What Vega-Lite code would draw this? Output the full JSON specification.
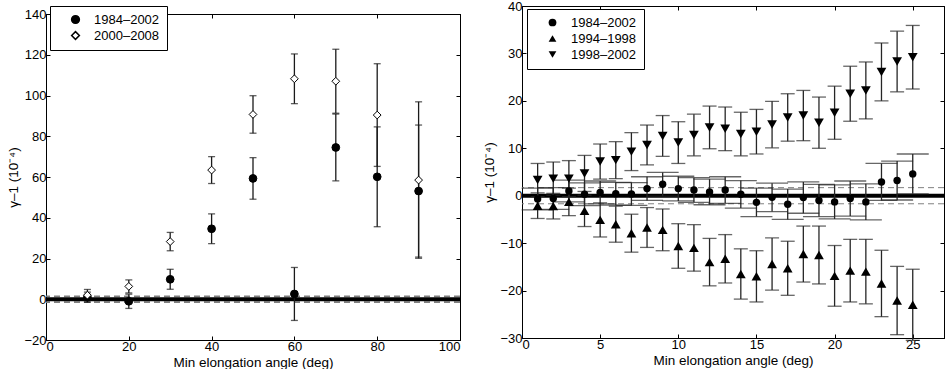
{
  "$schema": "https://vega.github.io/schema/vega-lite/v6.json",
  "background": "white",
  "padding": {"left": 6, "top": -1, "right": 0, "bottom": 0},
  "spacing": 19,
  "align": "none",
  "resolve": {"scale": {"shape": "independent", "fill": "independent", "x": "independent", "y": "independent"}, "legend": {"shape": "independent", "fill": "independent"}},
  "config": {
    "font": "Liberation Sans",
    "view": {"stroke": "black", "strokeWidth": 1},
    "axis": {"domainColor": "black", "tickColor": "black", "labelColor": "black", "titleColor": "black", "labelFont": "Liberation Sans", "titleFont": "Liberation Sans", "labelFontSize": 13, "titleFontSize": 13.5, "titleFontWeight": "normal", "grid": false, "tickSize": -4, "tickWidth": 1, "domainWidth": 1, "labelPadding": 4},
    "legend": {"labelFont": "Liberation Sans", "labelFontSize": 13, "labelColor": "black"}
  },
  "datasets": {
    "leftpts": [
      {"angle": 10, "value": 1.0, "err": 2.5, "series": "1984–2002"},
      {"angle": 20, "value": -1.0, "err": 3.5, "series": "1984–2002"},
      {"angle": 30, "value": 9.8, "err": 4.9, "series": "1984–2002"},
      {"angle": 40, "value": 34.6, "err": 7.3, "series": "1984–2002"},
      {"angle": 50, "value": 59.3, "err": 10.2, "series": "1984–2002"},
      {"angle": 60, "value": 2.6, "err": 13.0, "series": "1984–2002"},
      {"angle": 70, "value": 74.5, "err": 16.4, "series": "1984–2002"},
      {"angle": 80, "value": 60.1, "err": 24.5, "series": "1984–2002"},
      {"angle": 90, "value": 53.1, "err": 32.4, "series": "1984–2002"},
      {"angle": 10, "value": 2.0, "err": 2.8, "series": "2000–2008"},
      {"angle": 20, "value": 6.3, "err": 3.2, "series": "2000–2008"},
      {"angle": 30, "value": 28.3, "err": 4.5, "series": "2000–2008"},
      {"angle": 40, "value": 63.4, "err": 6.6, "series": "2000–2008"},
      {"angle": 50, "value": 90.7, "err": 9.2, "series": "2000–2008"},
      {"angle": 60, "value": 108.2, "err": 12.2, "series": "2000–2008"},
      {"angle": 70, "value": 107.0, "err": 15.7, "series": "2000–2008"},
      {"angle": 80, "value": 90.4, "err": 25.2, "series": "2000–2008"},
      {"angle": 90, "value": 58.5, "err": 38.4, "series": "2000–2008"}
    ],
    "leftlines": [
      {"v": 0, "kind": "zero"},
      {"v": 1.4, "kind": "bound"},
      {"v": -1.4, "kind": "bound"}
    ],
    "rightlines": [
      {"v": 0, "kind": "zero"},
      {"v": 1.7, "kind": "bound"},
      {"v": -1.7, "kind": "bound"}
    ],
    "rightpts": [
      {"angle": 1, "value": -0.7, "err": 2.3, "series": "1984–2002"},
      {"angle": 2, "value": -0.6, "err": 2.3, "series": "1984–2002"},
      {"angle": 3, "value": 1.0, "err": 2.3, "series": "1984–2002"},
      {"angle": 4, "value": 0.3, "err": 2.4, "series": "1984–2002"},
      {"angle": 5, "value": 0.7, "err": 2.4, "series": "1984–2002"},
      {"angle": 6, "value": 0.4, "err": 2.4, "series": "1984–2002"},
      {"angle": 7, "value": 0.35, "err": 2.4, "series": "1984–2002"},
      {"angle": 8, "value": 1.5, "err": 2.5, "series": "1984–2002"},
      {"angle": 9, "value": 2.4, "err": 2.5, "series": "1984–2002"},
      {"angle": 10, "value": 1.5, "err": 2.6, "series": "1984–2002"},
      {"angle": 11, "value": 1.2, "err": 2.6, "series": "1984–2002"},
      {"angle": 12, "value": 0.8, "err": 2.7, "series": "1984–2002"},
      {"angle": 13, "value": 1.2, "err": 2.8, "series": "1984–2002"},
      {"angle": 14, "value": 0.3, "err": 2.9, "series": "1984–2002"},
      {"angle": 15, "value": -1.4, "err": 3.0, "series": "1984–2002"},
      {"angle": 16, "value": -0.35, "err": 3.0, "series": "1984–2002"},
      {"angle": 17, "value": -1.8, "err": 3.2, "series": "1984–2002"},
      {"angle": 18, "value": -0.4, "err": 3.3, "series": "1984–2002"},
      {"angle": 19, "value": -1.0, "err": 3.4, "series": "1984–2002"},
      {"angle": 20, "value": -1.3, "err": 3.6, "series": "1984–2002"},
      {"angle": 21, "value": -0.6, "err": 3.7, "series": "1984–2002"},
      {"angle": 22, "value": -1.3, "err": 3.8, "series": "1984–2002"},
      {"angle": 23, "value": 2.9, "err": 3.9, "series": "1984–2002"},
      {"angle": 24, "value": 3.2, "err": 4.1, "series": "1984–2002"},
      {"angle": 25, "value": 4.6, "err": 4.2, "series": "1984–2002"},
      {"angle": 1, "value": -2.1, "err": 2.7, "series": "1994–1998"},
      {"angle": 2, "value": -2.2, "err": 2.7, "series": "1994–1998"},
      {"angle": 3, "value": -1.3, "err": 2.9, "series": "1994–1998"},
      {"angle": 4, "value": -3.2, "err": 3.3, "series": "1994–1998"},
      {"angle": 5, "value": -5.1, "err": 3.6, "series": "1994–1998"},
      {"angle": 6, "value": -6.0, "err": 3.8, "series": "1994–1998"},
      {"angle": 7, "value": -7.9, "err": 4.0, "series": "1994–1998"},
      {"angle": 8, "value": -6.7, "err": 4.2, "series": "1994–1998"},
      {"angle": 9, "value": -7.2, "err": 4.4, "series": "1994–1998"},
      {"angle": 10, "value": -10.6, "err": 4.7, "series": "1994–1998"},
      {"angle": 11, "value": -11.0, "err": 4.9, "series": "1994–1998"},
      {"angle": 12, "value": -14.0, "err": 5.0, "series": "1994–1998"},
      {"angle": 13, "value": -13.3, "err": 5.1, "series": "1994–1998"},
      {"angle": 14, "value": -16.5, "err": 5.3, "series": "1994–1998"},
      {"angle": 15, "value": -17.0, "err": 5.4, "series": "1994–1998"},
      {"angle": 16, "value": -14.4, "err": 5.5, "series": "1994–1998"},
      {"angle": 17, "value": -15.3, "err": 5.7, "series": "1994–1998"},
      {"angle": 18, "value": -12.3, "err": 5.9, "series": "1994–1998"},
      {"angle": 19, "value": -12.5, "err": 6.1, "series": "1994–1998"},
      {"angle": 20, "value": -16.9, "err": 6.4, "series": "1994–1998"},
      {"angle": 21, "value": -15.8, "err": 6.6, "series": "1994–1998"},
      {"angle": 22, "value": -16.0, "err": 6.8, "series": "1994–1998"},
      {"angle": 23, "value": -18.5, "err": 7.0, "series": "1994–1998"},
      {"angle": 24, "value": -22.1, "err": 7.2, "series": "1994–1998"},
      {"angle": 25, "value": -23.0, "err": 7.5, "series": "1994–1998"},
      {"angle": 1, "value": 3.3, "err": 3.5, "series": "1998–2002"},
      {"angle": 2, "value": 3.6, "err": 3.5, "series": "1998–2002"},
      {"angle": 3, "value": 3.6, "err": 3.8, "series": "1998–2002"},
      {"angle": 4, "value": 4.7, "err": 3.8, "series": "1998–2002"},
      {"angle": 5, "value": 7.2, "err": 3.7, "series": "1998–2002"},
      {"angle": 6, "value": 7.5, "err": 3.9, "series": "1998–2002"},
      {"angle": 7, "value": 9.3, "err": 4.0, "series": "1998–2002"},
      {"angle": 8, "value": 10.7, "err": 4.2, "series": "1998–2002"},
      {"angle": 9, "value": 12.6, "err": 4.3, "series": "1998–2002"},
      {"angle": 10, "value": 11.2, "err": 4.4, "series": "1998–2002"},
      {"angle": 11, "value": 12.8, "err": 4.4, "series": "1998–2002"},
      {"angle": 12, "value": 14.4, "err": 4.5, "series": "1998–2002"},
      {"angle": 13, "value": 14.1, "err": 4.6, "series": "1998–2002"},
      {"angle": 14, "value": 13.0, "err": 4.6, "series": "1998–2002"},
      {"angle": 15, "value": 13.5, "err": 4.7, "series": "1998–2002"},
      {"angle": 16, "value": 15.0, "err": 4.9, "series": "1998–2002"},
      {"angle": 17, "value": 16.5, "err": 5.0, "series": "1998–2002"},
      {"angle": 18, "value": 16.9, "err": 5.3, "series": "1998–2002"},
      {"angle": 19, "value": 15.4, "err": 5.4, "series": "1998–2002"},
      {"angle": 20, "value": 17.5, "err": 5.6, "series": "1998–2002"},
      {"angle": 21, "value": 21.5, "err": 5.8, "series": "1998–2002"},
      {"angle": 22, "value": 22.2, "err": 6.0, "series": "1998–2002"},
      {"angle": 23, "value": 26.1, "err": 6.1, "series": "1998–2002"},
      {"angle": 24, "value": 28.3, "err": 6.4, "series": "1998–2002"},
      {"angle": 25, "value": 29.2, "err": 6.7, "series": "1998–2002"}
    ]
  },
  "hconcat": [
    {
      "spacing": 0,
      "vconcat": [
        {
          "width": 414,
          "height": 1,
          "view": {"stroke": null, "fill": "white"},
          "data": {"values": []},
          "mark": "point"
        },
        {
          "width": 414,
          "height": 326,
          "resolve": {"axis": {"x": "independent", "y": "independent"}},
          "layer": [
            {
              "data": {"name": "leftlines"},
              "transform": [{"filter": "datum.kind === 'bound'"}],
              "mark": {"type": "rule", "color": "#808080", "strokeWidth": 1.8, "strokeDash": [6, 4]},
              "encoding": {"y": {"field": "v", "type": "quantitative", "scale": {"domain": [-20, 140], "nice": false}, "axis": null}}
            },
            {
              "data": {"name": "leftlines"},
              "transform": [{"filter": "datum.kind === 'zero'"}],
              "mark": {"type": "rule", "color": "black", "strokeWidth": 4},
              "encoding": {"y": {"field": "v", "type": "quantitative", "axis": null}}
            },
            {
              "data": {"name": "leftpts"},
              "mark": {"type": "errorbar", "ticks": true, "size": 7, "thickness": 1.3, "color": "#1a1a1a"},
              "encoding": {
                "x": {"field": "angle", "type": "quantitative", "scale": {"domain": [0, 100], "nice": false}, "axis": {"orient": "top", "labels": false, "title": null, "values": [0, 20, 40, 60, 80, 100], "minExtent": 0}},
                "y": {"field": "value", "type": "quantitative", "axis": {"orient": "right", "labels": false, "title": null, "values": [-20, 0, 20, 40, 60, 80, 100, 120, 140], "minExtent": 0}},
                "yError": {"field": "err"},
                "detail": {"field": "series"}
              }
            },
            {
              "data": {"name": "leftpts"},
              "mark": {"type": "point", "stroke": "black", "strokeWidth": 1, "opacity": 1, "size": 60},
              "encoding": {
                "x": {"field": "angle", "type": "quantitative", "axis": {"orient": "bottom", "title": "Min elongation angle (deg)", "values": [0, 20, 40, 60, 80, 100], "titlePadding": 2}},
                "y": {"field": "value", "type": "quantitative", "axis": {"orient": "left", "title": "γ–1 (10⁻⁴)", "values": [-20, 0, 20, 40, 60, 80, 100, 120, 140], "titlePadding": 3}},
                "shape": {"field": "series", "type": "nominal", "scale": {"domain": ["1984–2002", "2000–2008"], "range": ["circle", "diamond"]}, "legend": {"title": null, "orient": "none", "legendX": 4, "legendY": 0, "strokeColor": "black", "fillColor": "white", "padding": 7, "symbolOffset": 12, "labelOffset": 12, "rowPadding": 1, "symbolSize": 60, "encode": {"symbols": {"fill": {"value": {"expr": "datum.value === '2000–2008' ? 'white' : 'black'"}}, "stroke": {"value": "black"}, "strokeWidth": {"value": 1}}}}},
                "fill": {"field": "series", "type": "nominal", "scale": {"domain": ["1984–2002", "2000–2008"], "range": ["black", "white"]}, "legend": null}
              }
            }
          ]
        }
      ]
    },
    {
      "width": 422,
      "height": 332,
      "resolve": {"axis": {"x": "independent", "y": "independent"}},
      "layer": [
        {
          "data": {"name": "rightlines"},
          "transform": [{"filter": "datum.kind === 'bound'"}],
          "mark": {"type": "rule", "color": "#808080", "strokeWidth": 1, "strokeDash": [6, 4]},
          "encoding": {"y": {"field": "v", "type": "quantitative", "scale": {"domain": [-30, 40], "nice": false}, "axis": null}}
        },
        {
          "data": {"name": "rightlines"},
          "transform": [{"filter": "datum.kind === 'zero'"}],
          "mark": {"type": "rule", "color": "black", "strokeWidth": 4},
          "encoding": {"y": {"field": "v", "type": "quantitative", "axis": null}}
        },
        {
          "data": {"name": "rightpts"},
          "transform": [{"filter": "datum.series !== '1984–2002'"}],
          "mark": {"type": "errorbar", "ticks": true, "size": 14, "thickness": 1.3, "color": "#262626"},
          "encoding": {
            "x": {"field": "angle", "type": "quantitative", "scale": {"domain": [0, 27], "nice": false}, "axis": {"orient": "top", "labels": false, "title": null, "values": [0, 5, 10, 15, 20, 25], "minExtent": 0}},
            "y": {"field": "value", "type": "quantitative", "axis": {"orient": "right", "labels": false, "title": null, "values": [-30, -20, -10, 0, 10, 20, 30, 40], "minExtent": 0}},
            "yError": {"field": "err"},
            "detail": {"field": "series"}
          }
        },
        {
          "data": {"name": "rightpts"},
          "transform": [{"filter": "datum.series === '1984–2002'"}],
          "mark": {"type": "errorbar", "ticks": true, "size": 32, "thickness": 1.3, "color": "#262626"},
          "encoding": {
            "x": {"field": "angle", "type": "quantitative", "axis": null},
            "y": {"field": "value", "type": "quantitative", "axis": null},
            "yError": {"field": "err"}
          }
        },
        {
          "data": {"name": "rightpts"},
          "transform": [{"filter": "datum.series !== '1984–2002'"}],
          "mark": {"type": "point", "filled": true, "color": "black", "opacity": 1, "size": 95},
          "encoding": {
            "x": {"field": "angle", "type": "quantitative", "axis": null},
            "y": {"field": "value", "type": "quantitative", "axis": null},
            "shape": {"field": "series", "type": "nominal", "scale": {"domain": ["1984–2002", "1994–1998", "1998–2002"], "range": ["circle", "triangle-up", "triangle-down"]}, "legend": {"title": null, "orient": "none", "legendX": 5, "legendY": 3, "strokeColor": "black", "fillColor": "white", "padding": 7, "symbolOffset": 12, "labelOffset": 12, "rowPadding": 2, "symbolFillColor": "black", "symbolStrokeColor": "black", "symbolSize": 60}}
          }
        },
        {
          "data": {"name": "rightpts"},
          "transform": [{"filter": "datum.series === '1984–2002'"}],
          "mark": {"type": "point", "filled": true, "color": "black", "opacity": 1, "size": 55},
          "encoding": {
            "x": {"field": "angle", "type": "quantitative", "axis": {"orient": "bottom", "title": "Min elongation angle (deg)", "values": [0, 5, 10, 15, 20, 25], "titlePadding": 2}},
            "y": {"field": "value", "type": "quantitative", "axis": {"orient": "left", "title": "γ–1 (10⁻⁴)", "values": [-30, -20, -10, 0, 10, 20, 30, 40], "titlePadding": 3}},
            "shape": {"field": "series", "type": "nominal", "legend": {"title": null, "orient": "none", "legendX": 5, "legendY": 3, "strokeColor": "black", "fillColor": "white", "padding": 7, "symbolOffset": 12, "labelOffset": 12, "rowPadding": 2, "symbolFillColor": "black", "symbolStrokeColor": "black", "symbolSize": 60}}
          }
        }
      ]
    }
  ]
}
